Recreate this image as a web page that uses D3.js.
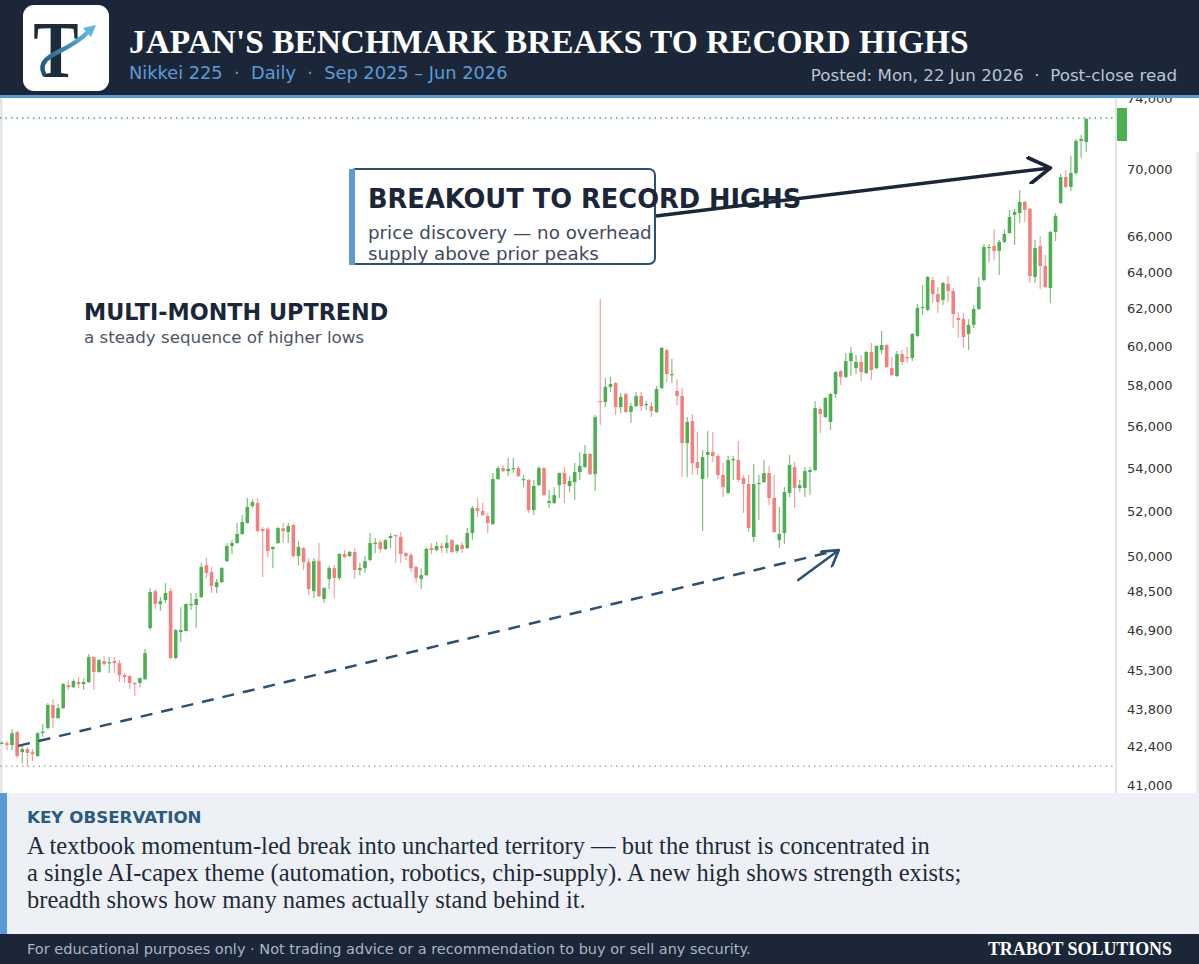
<!DOCTYPE html>
<html>
<head>
<meta charset="utf-8">
<script src="https://cdn.jsdelivr.net/npm/d3@7"></script>
<style>
  body { margin: 0; background: #fff; }
  svg { display: block; }
</style>
</head>
<body>
<div id="chart"></div>
<script>
// Nikkei 225 daily sessions, Sep 2025 - Jun 2026 : [open, high, low, close]
const ohlc = [
  [42500,42580,42480,42540],[42520,42600,42270,42450],[42450,43040,42270,42890],[42930,42970,41970,42050],[42190,42450,41790,42300],
  [42300,42380,41680,42160],[42190,42300,41860,42120],[42050,42930,42010,42890],[42900,43230,42750,42950],[43080,44030,43040,43950],
  [43950,44180,43080,43460],[43460,43990,43420,43830],[43830,44800,43800,44760],[44720,44910,44530,44640],[44640,44950,44600,44880],
  [44840,45030,44600,44760],[44760,44990,44530,44840],[44840,45940,44800,45820],[45820,45840,44530,45230],[45230,45740,45200,45700],
  [45660,45860,45500,45540],[45580,45820,45190,45620],[45660,45820,45190,45580],[45580,45700,44840,45110],[45110,45190,44800,45030],
  [45070,45110,44570,44800],[44800,44840,44300,44760],[44800,45030,44640,44990],[44950,46140,44920,45980],[46990,48650,46910,48480],
  [48520,48610,47770,47980],[47980,48270,47690,48100],[48150,48860,48020,48440],[48520,48650,45750,45780],[45780,46950,45740,46910],
  [46830,47850,46420,46910],[46870,48000,46850,47980],[47940,48440,47730,47980],[47940,48440,46990,48190],[48270,49720,48230,49550],
  [49630,49940,49080,49290],[49330,49550,48440,48740],[48690,49030,48440,48900],[48900,49550,48860,49500],[49800,50590,49760,50460],
  [50460,50720,50110,50590],[50590,51480,50560,50990],[50990,51840,50950,51520],[51480,52610,51440,52200],[52240,52560,52150,52420],
  [52380,52610,51080,51120],[51210,51300,49120,51120],[51210,51300,49980,50240],[50330,50440,49500,50420],[50590,51300,50550,51250],
  [51250,51480,50590,51120],[51080,51480,50590,51340],[51390,51420,49940,50020],[50020,50680,49630,50420],[50370,50420,49420,49760],
  [49760,49940,48360,48610],[48520,49940,48230,49800],[49800,50590,48280,48310],[48190,48700,48020,48650],[49030,49590,48610,49500],
  [49500,49630,48230,49080],[49080,50150,48990,50110],[50110,50280,49940,49980],[50020,50240,49980,50200],[50200,50370,49030,49420],
  [49420,49720,49200,49500],[49500,50020,49290,49800],[49850,51030,49800,50590],[50570,50810,50150,50600],[50630,50720,50150,50330],
  [50330,50760,50290,50720],[50810,51030,50370,50900],[50940,50960,49720,50900],[50860,51080,49720,50110],[50150,50200,49850,50020],
  [50070,50150,49330,49500],[49550,49590,48860,49080],[49030,49500,48610,49200],[49200,50420,49160,50330],[50370,50590,50110,50280],
  [50280,50630,50240,50460],[50460,50590,50150,50370],[50370,50940,50150,50590],[50720,50760,50150,50200],[50240,50550,50150,50500],
  [50500,50630,50150,50330],[50370,51250,50330,51030],[51030,52240,50720,52150],[52150,52610,51750,52020],[52020,52380,51790,51840],
  [51790,51930,51030,51480],[51430,53760,51390,53480],[53480,54090,53440,53990],[53990,54140,53810,53850],[53850,54470,53620,53950],
  [53950,54470,53760,53990],[53990,54090,53570,53620],[53440,53670,53110,53480],[53440,53480,51930,52060],[52060,53440,51840,53160],
  [53200,54090,53160,53990],[53990,54040,52700,52740],[52380,52970,52150,52470],[52380,53110,52330,52740],[53200,53790,52610,53760],
  [53760,54040,52380,53250],[53160,53620,52880,53390],[53340,54230,52520,53810],[53810,54750,53440,54090],[54040,55090,54000,54660],
  [54660,54700,53680,53710],[53710,56540,52930,56440],[57230,62530,56050,57180],[57180,58390,56930,57930],[57930,58440,57680,58080],
  [58130,58180,56540,56930],[56930,57630,56640,57430],[57580,57630,56640,56690],[56690,57130,56150,56980],[56980,57680,56930,57480],
  [57480,57680,56740,56980],[57030,57230,56790,57080],[56980,57180,56440,56740],[56690,57980,56640,57830],[57880,59980,57830,59930],
  [59820,59870,58180,58590],[58540,59360,58130,58590],[57730,58330,57030,57480],[57480,57880,53570,55180],[55180,56440,53570,56200],
  [56240,56590,53670,54230],[54280,55710,53670,53990],[53480,54850,51120,54510],[54610,55760,53530,54750],[54750,55710,54280,54560],
  [54560,54660,53480,53670],[53670,54230,52650,53110],[52840,54560,52790,54370],[54370,54560,53440,54420],[54370,55280,53340,53440],
  [53530,53670,51930,53250],[53250,53670,51080,51250],[50860,54180,50630,53250],[53250,53670,51610,53300],[53340,54370,53300,53760],
  [53760,54090,52290,52610],[52610,53670,51030,51080],[50720,52200,50370,50990],[51030,53110,50550,52880],[52840,54610,52650,54140],
  [54040,54280,52150,53070],[53070,53440,52880,53200],[53070,54040,52650,53850],[53810,54040,52740,53900],[53900,57230,53850,56880],
  [56830,56930,55660,56590],[56440,57430,56390,57380],[56200,57630,55810,57580],[57580,58740,57380,58690],[58740,58790,58030,58440],
  [58440,59670,58390,59250],[59250,59980,58490,59670],[58890,59560,58590,59200],[59200,59560,58230,58690],[58640,59770,58590,59720],
  [59720,60190,58280,58790],[58890,60080,58840,60030],[59820,60820,59620,60080],[60080,60130,58900,58950],[58890,59460,58490,58540],
  [58490,59770,58440,59610],[59610,59820,59050,59200],[59460,59980,59150,59410],[59410,60710,59250,60660],[60560,62260,60500,62050],
  [62050,63300,61670,62100],[61940,63790,61880,63740],[63570,63740,62310,62800],[62800,63190,61780,62370],[62480,63460,62210,63410],
  [63350,63790,62370,62970],[62970,63130,60980,61720],[61510,61830,60450,61400],[61450,61780,59930,60500],[60660,61450,59820,61140],
  [61140,62210,60980,61990],[61990,63740,61940,63190],[63570,65590,63520,65420],[65360,65590,64570,65420],[65480,66450,64690,65200],
  [65200,65820,63850,65710],[65710,66450,65650,66160],[66220,67560,66160,67150],[67270,67620,65540,67440],[67380,68740,66800,68030],
  [68030,68090,66860,67560],[67620,67680,63410,63790],[63740,65820,63410,65360],[65480,66050,63080,64350],[64350,64970,63130,63190],
  [63130,66340,62320,66280],[66280,67380,65760,67210],[67970,69700,67910,69520],[69520,69950,68860,68920],[68920,70800,68680,69760],
  [69760,71860,69640,71730],[71730,72110,70680,71860],[71670,73180,71050,73110]
];

const yTicks = [41000, 42400, 43800, 45300, 46900, 48500, 50000, 52000, 54000, 56000, 58000, 60000, 62000, 64000, 66000, 70000, 74000];

const titleText = "JAPAN'S BENCHMARK BREAKS TO RECORD HIGHS";
const subtitleText = "Nikkei 225  \u00b7  Daily  \u00b7  Sep 2025 \u2013 Jun 2026";
const postedText = "Posted: Mon, 22 Jun 2026  \u00b7  Post-close read";
const obsLines = [
  "A textbook momentum-led break into uncharted territory \u2014 but the thrust is concentrated in",
  "a single AI-capex theme (automation, robotics, chip-supply). A new high shows strength exists;",
  "breadth shows how many names actually stand behind it."
];
const footerText = "For educational purposes only \u00b7 Not trading advice or a recommendation to buy or sell any security.";

// annotation anchors: [session index, price]
const trendFrom = [3.2, 42420];
const trendTo = [163.6, 50280];
const trendArrowTail = [155.7, 48990];
const breakoutTip = [205, 70070];

const W = 1199, H = 964;
const plotTop = 97, plotBottom = 793, plotRight = 1115;
const navy = '#1b2738', blue = '#5b9bd5', trendBlue = '#2c5073';
const up = '#4caf50', down = '#f47f7f';
const sans = "'DejaVu Sans', Verdana, sans-serif";
const serif = "'Liberation Serif', 'Times New Roman', serif";

const svg = d3.select('#chart').append('svg')
  .attr('width', W).attr('height', H);

const defs = svg.append('defs');
defs.append('clipPath').attr('id', 'plot-clip')
  .append('rect').attr('x', 0).attr('y', plotTop).attr('width', plotRight).attr('height', plotBottom - plotTop);

[['arrow-dark', navy, 8], ['arrow-trend', trendBlue, 8]].forEach(([id, col, size]) => {
  defs.append('marker')
    .attr('id', id)
    .attr('viewBox', '0 0 12 12')
    .attr('refX', 10).attr('refY', 6)
    .attr('markerWidth', size).attr('markerHeight', size)
    .attr('markerUnits', 'strokeWidth')
    .attr('orient', 'auto')
    .append('path')
    .attr('d', 'M1,0.5 L10,6 L1,11.5')
    .attr('fill', 'none')
    .attr('stroke', col)
    .attr('stroke-width', 1.6)
    .attr('stroke-linecap', 'round')
    .attr('stroke-linejoin', 'round');
});

const x = d3.scaleBand()
  .domain(d3.range(ohlc.length))
  .range([0, 1088])
  .paddingInner(0.3);
const xc = i => x.step() * i + x.bandwidth() / 2;

const y = d3.scaleLog()
  .domain([40720, 74520])
  .range([plotBottom, plotTop]);

// plot background + frame
svg.append('rect').attr('x', 0).attr('y', plotTop).attr('width', W).attr('height', plotBottom - plotTop).attr('fill', '#fff');
svg.append('rect').attr('x', 0).attr('y', plotTop).attr('width', 2.5).attr('height', plotBottom - plotTop).attr('fill', '#e6e6e6');
svg.append('line').attr('x1', plotRight + 1).attr('x2', plotRight + 1).attr('y1', plotTop).attr('y2', plotBottom)
  .attr('stroke', '#e4e4e4').attr('stroke-width', 2);
svg.append('rect').attr('x', 1196).attr('y', 152).attr('width', 3).attr('height', plotBottom - 152).attr('fill', '#ececec');

// y axis labels (top one sits partly under the header)
const axis = svg.append('g').attr('transform', `translate(${plotRight + 1},0)`)
  .call(d3.axisRight(y).tickValues(yTicks).tickFormat(d3.format(',')).tickSize(0).tickPadding(11));
axis.select('.domain').remove();
axis.selectAll('text').attr('font-family', sans).attr('font-size', 13).attr('fill', '#333')
  .filter(d => d === d3.max(yTicks)).attr('dy', '-0.22em');

const plot = svg.append('g').attr('clip-path', 'url(#plot-clip)');

const maxHigh = d3.max(ohlc, d => d[1]);
const minLow = d3.min(ohlc, d => d[2]);

plot.append('line')
  .attr('x1', 0).attr('x2', plotRight).attr('y1', y(maxHigh)).attr('y2', y(maxHigh))
  .attr('stroke', up).attr('stroke-width', 1.5).attr('stroke-dasharray', '1.5,4');
plot.append('line')
  .attr('x1', 0).attr('x2', plotRight).attr('y1', y(minLow)).attr('y2', y(minLow))
  .attr('stroke', '#aaa').attr('stroke-width', 1.5).attr('stroke-dasharray', '1.5,4');

// candles
const candles = plot.selectAll('g.candle')
  .data(ohlc)
  .enter()
  .append('g')
  .attr('class', 'candle');

candles.append('line')
  .attr('x1', (d, i) => xc(i)).attr('x2', (d, i) => xc(i))
  .attr('y1', d => y(d[1])).attr('y2', d => y(d[2]))
  .attr('stroke', d => d[3] >= d[0] ? up : down)
  .attr('stroke-opacity', 0.75)
  .attr('stroke-width', 1.2);

candles.append('rect')
  .attr('x', (d, i) => x(i))
  .attr('width', x.bandwidth())
  .attr('y', d => y(Math.max(d[0], d[3])))
  .attr('height', d => Math.max(1.2, Math.abs(y(d[0]) - y(d[3]))))
  .attr('fill', d => d[3] >= d[0] ? up : down);

// last price marker on the axis
const last = ohlc[ohlc.length - 1];
svg.append('rect')
  .attr('x', plotRight + 2).attr('y', y(last[3]) - 11).attr('width', 10).attr('height', 33)
  .attr('fill', up);

// dashed uptrend line, ending in an arrow
svg.append('line')
  .attr('x1', xc(trendFrom[0])).attr('y1', y(trendFrom[1]))
  .attr('x2', xc(trendTo[0])).attr('y2', y(trendTo[1]))
  .attr('stroke', trendBlue).attr('stroke-width', 2.5)
  .attr('stroke-dasharray', '12,9');
svg.append('line')
  .attr('x1', xc(trendArrowTail[0])).attr('y1', y(trendArrowTail[1]))
  .attr('x2', xc(trendTo[0])).attr('y2', y(trendTo[1]))
  .attr('stroke', trendBlue).attr('stroke-width', 2.5)
  .attr('stroke-linecap', 'round')
  .attr('marker-end', 'url(#arrow-trend)');

// uptrend label
svg.append('text').attr('x', 84).attr('y', 320)
  .attr('font-family', sans).attr('font-size', 22.3).attr('font-weight', 'bold').attr('fill', navy)
  .text('MULTI-MONTH UPTREND');
svg.append('text').attr('x', 84).attr('y', 343)
  .attr('font-family', sans).attr('font-size', 16.7).attr('fill', '#4a5564')
  .text('a steady sequence of higher lows');

// breakout callout
const box = svg.append('g');
box.append('rect').attr('x', 350).attr('y', 169).attr('width', 305).attr('height', 95).attr('rx', 6)
  .attr('fill', '#fff').attr('stroke', '#2c4f73').attr('stroke-width', 2);
box.append('rect').attr('x', 349).attr('y', 169).attr('width', 6).attr('height', 96).attr('fill', blue);
box.append('text').attr('x', 368).attr('y', 208)
  .attr('font-family', sans).attr('font-size', 25.7).attr('font-weight', 'bold').attr('fill', navy)
  .text('BREAKOUT TO RECORD HIGHS');
box.append('text').attr('x', 368).attr('y', 239)
  .attr('font-family', sans).attr('font-size', 18.3).attr('fill', '#3d4a5c')
  .text('price discovery \u2014 no overhead');
box.append('text').attr('x', 368).attr('y', 260)
  .attr('font-family', sans).attr('font-size', 18.3).attr('fill', '#3d4a5c')
  .text('supply above prior peaks');

svg.append('line')
  .attr('x1', 656).attr('y1', 216)
  .attr('x2', xc(breakoutTip[0])).attr('y2', y(breakoutTip[1]))
  .attr('stroke', navy).attr('stroke-width', 3.5)
  .attr('marker-end', 'url(#arrow-dark)');

// header
svg.append('rect').attr('x', 0).attr('y', 0).attr('width', W).attr('height', 95).attr('fill', navy);
svg.append('rect').attr('x', 0).attr('y', 95).attr('width', W).attr('height', 3).attr('fill', blue);

const logo = svg.append('g');
const grad = defs.append('linearGradient').attr('id', 'swoosh').attr('x1', 0).attr('x2', 1).attr('y1', 1).attr('y2', 0);
grad.append('stop').attr('offset', 0).attr('stop-color', '#1f4f6e');
grad.append('stop').attr('offset', 1).attr('stop-color', '#5fb3dc');
logo.append('rect').attr('x', 23).attr('y', 5).attr('width', 86).attr('height', 86).attr('rx', 11).attr('fill', '#fff');
logo.append('text').attr('x', 56).attr('y', 77).attr('text-anchor', 'middle')
  .attr('font-family', serif).attr('font-weight', 'bold').attr('font-size', 80).attr('fill', '#1b2d3c')
  .attr('transform', 'translate(56,77) scale(0.85,1) translate(-56,-77)')
  .text('T');
logo.append('path')
  .attr('d', 'M44,74 C38,62 50,56 60,51 C72,45 80,40 88,32')
  .attr('fill', 'none').attr('stroke', 'url(#swoosh)').attr('stroke-width', 4.5).attr('stroke-linecap', 'round');
logo.append('path')
  .attr('d', 'M96,25 L83,28 L91,37 Z')
  .attr('fill', '#5fb3dc');

svg.append('text').attr('x', 129).attr('y', 53)
  .attr('font-family', serif).attr('font-weight', 'bold').attr('font-size', 33.4).attr('fill', '#fff')
  .text(titleText);
svg.append('text').attr('x', 129).attr('y', 79)
  .attr('font-family', sans).attr('font-size', 17.8).attr('fill', blue)
  .style('white-space', 'pre')
  .text(subtitleText);
svg.append('text').attr('x', 1177).attr('y', 81).attr('text-anchor', 'end')
  .attr('font-family', sans).attr('font-size', 16.7).attr('fill', '#b9c5d2')
  .style('white-space', 'pre')
  .text(postedText);

// key observation panel
svg.append('rect').attr('x', 0).attr('y', plotBottom).attr('width', W).attr('height', 141).attr('fill', '#edf1f5');
svg.append('rect').attr('x', 0).attr('y', plotBottom).attr('width', 7).attr('height', 141).attr('fill', blue);
svg.append('text').attr('x', 27).attr('y', 823)
  .attr('font-family', sans).attr('font-size', 16.7).attr('font-weight', 'bold').attr('fill', '#2c5a80')
  .text('KEY OBSERVATION');
svg.append('g').selectAll('text')
  .data(obsLines)
  .enter()
  .append('text')
  .attr('x', 27).attr('y', (d, i) => 854 + i * 27)
  .attr('font-family', serif).attr('font-size', 24.5).attr('fill', '#1e2a38')
  .text(d => d);

// footer
svg.append('rect').attr('x', 0).attr('y', 934).attr('width', W).attr('height', 30).attr('fill', navy);
svg.append('text').attr('x', 27).attr('y', 954)
  .attr('font-family', sans).attr('font-size', 14.5).attr('fill', '#aab5c2')
  .text(footerText);
svg.append('text').attr('x', 1172).attr('y', 955).attr('text-anchor', 'end')
  .attr('font-family', serif).attr('font-weight', 'bold').attr('font-size', 17.9).attr('fill', '#fff')
  .text('TRABOT SOLUTIONS');
</script>
</body>
</html>
